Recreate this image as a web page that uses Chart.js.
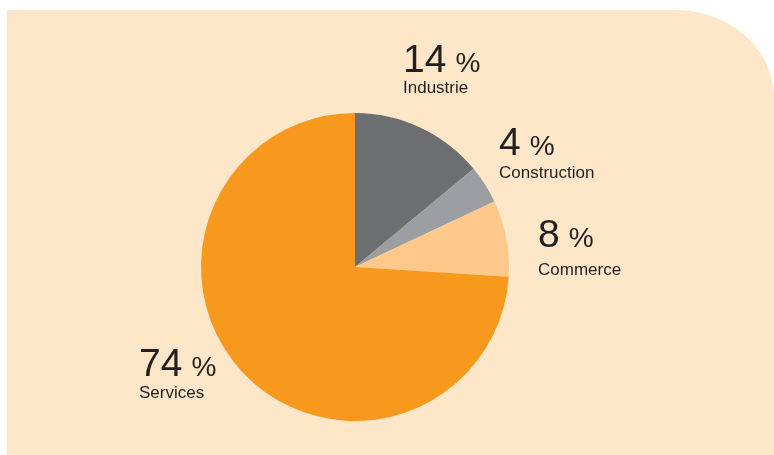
<!DOCTYPE html>
<html><head><meta charset="utf-8">
<script src="https://cdn.jsdelivr.net/npm/chart.js@4/dist/chart.umd.min.js"></script>
<style>
html,body{margin:0;padding:0;background:#fff;}
#wrap{position:relative;width:774px;height:455px;overflow:hidden;}
#panel{position:absolute;left:7px;top:10px;width:767px;height:460px;background:#fee6c9;border-top-right-radius:98px 88px;}
canvas{position:absolute;left:0;top:0;}
</style></head>
<body>
<div id="wrap"><div id="panel"></div><canvas id="c" width="774" height="455"></canvas></div>
<script>
const categories = ["Industrie", "Construction", "Commerce", "Services"];
const shares = [14, 4, 8, 74];
const shareLabels = ["14", "4", "8", "74"];
const sliceColors = ["#6d6e70", "#9c9ea1", "#fec98b", "#f7991d"];
// label anchor positions (left x, number baseline, name baseline)
const labelLayout = [
  {x: 403, nb: 72, lb: 93},
  {x: 499, nb: 155, lb: 178},
  {x: 538, nb: 247, lb: 275},
  {x: 139, nb: 376, lb: 398}
];

const labelPlugin = {
  id: 'labels',
  afterDraw(chart) {
    const ctx = chart.ctx;
    ctx.save();
    ctx.fillStyle = '#231f20';
    ctx.textBaseline = 'alphabetic';
    ctx.textAlign = 'left';
    categories.forEach((name, i) => {
      const p = labelLayout[i];
      ctx.font = '39px "Liberation Sans", Arial, sans-serif';
      ctx.fillText(shareLabels[i], p.x, p.nb);
      const w = ctx.measureText(shareLabels[i]).width;
      ctx.font = '28px "Liberation Sans", Arial, sans-serif';
      ctx.fillText('%', p.x + w + 9, p.nb);
      ctx.font = '17px "Liberation Sans", Arial, sans-serif';
      ctx.fillText(name, p.x, p.lb);
    });
    ctx.restore();
  }
};

new Chart(document.getElementById('c'), {
  type: 'pie',
  data: {
    labels: categories,
    datasets: [{
      data: shares,
      backgroundColor: sliceColors,
      borderWidth: 0,
      hoverOffset: 0
    }]
  },
  options: {
    responsive: false,
    animation: false,
    layout: {padding: {left: 201, right: 265, top: 113, bottom: 34}},
    plugins: {legend: {display: false}, tooltip: {enabled: false}},
    events: []
  },
  plugins: [labelPlugin]
});
</script>
</body></html>
